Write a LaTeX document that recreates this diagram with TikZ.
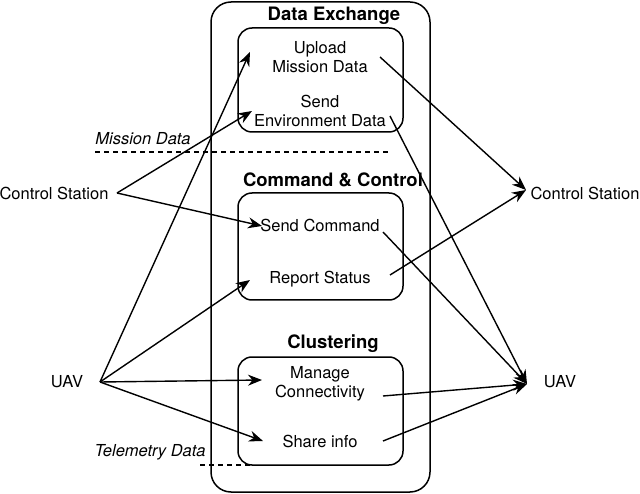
\documentclass[tikz,border=0pt]{standalone}
\usepackage{fontspec}
\setmainfont{TeX Gyre Heros}
\usetikzlibrary{arrows.meta}
\begin{document}
\begin{tikzpicture}[x=1pt,y=-1pt,
  lbl/.style={font=\fontsize{16.5}{19.5}\selectfont,align=center,inner sep=1pt},
  ttl/.style={font=\bfseries\fontsize{18.5}{22}\selectfont},
  arr/.style={-{Stealth[length=14pt,width=11pt]},line width=1.4pt},
  box/.style={draw,line width=1.5pt,rounded corners=14pt}]
\useasboundingbox (0,0) rectangle (640,494);
\draw[box,rounded corners=20pt] (211,2) rectangle (430,492);
\draw[box] (238,28) rectangle (403,132);
\draw[box] (238,193) rectangle (403,300);
\draw[box] (238,357) rectangle (403,465);
\node[ttl] (t1) at (334,16) {Data Exchange};
\node[ttl] (t2) at (333,180) {Command \& Control};
\node[ttl] (t3) at (333,344) {Clustering};
\node[lbl] (um) at (320,57) {Upload\\Mission Data};
\node[lbl] (se) at (320,111) {Send\\Environment Data};
\node[lbl] (sc) at (320,225) {Send Command};
\node[lbl] (rs) at (320,279) {Report Status};
\node[lbl] (mc) at (320,384) {Manage\\Connectivity};
\node[lbl] (si) at (320,441) {Share info};
\node[lbl,font=\itshape\fontsize{16.5}{19.5}\selectfont] (md) at (143,139) {Mission Data};
\node[lbl,font=\itshape\fontsize{16.5}{19.5}\selectfont] (td) at (150,452) {Telemetry Data};
\coordinate (d1a) at (95,152); \coordinate (d1b) at (388,152);
\coordinate (d2a) at (200,465); \coordinate (d2b) at (250,465);
\draw[dashed,line width=1.3pt,dash pattern=on 5pt off 4pt] (d1a) -- (d1b);
\draw[dashed,line width=1.3pt,dash pattern=on 5pt off 4pt] (d2a) -- (d2b);
\node[lbl] (csl) at (54,193) {Control Station};
\node[lbl] (uavl) at (67,382) {UAV};
\node[lbl] (csr) at (585,193) {Control Station};
\node[lbl] (uavr) at (560,382) {UAV};
\coordinate (csl1) at (117,193);
\coordinate (uavl1) at (100,382);
\coordinate (csr1) at (526,190);
\coordinate (uavr1) at (527,384);
\draw[arr] (csl1) -- (252,111);
\draw[arr] (csl1) -- (262,226);
\draw[arr] (uavl1) -- (250,52);
\draw[arr] (uavl1) -- (250,280);
\draw[arr] (uavl1) -- (262,380);
\draw[arr] (uavl1) -- (263,441);
\draw[arr] (380,57) -- (csr1);
\draw[arr] (390,275) -- (csr1);
\draw[arr] (390,116) -- (uavr1);
\draw[arr] (383,232) -- (uavr1);
\draw[arr] (383,396) -- (uavr1);
\draw[arr] (383,441) -- (uavr1);
\end{tikzpicture}
\end{document}
